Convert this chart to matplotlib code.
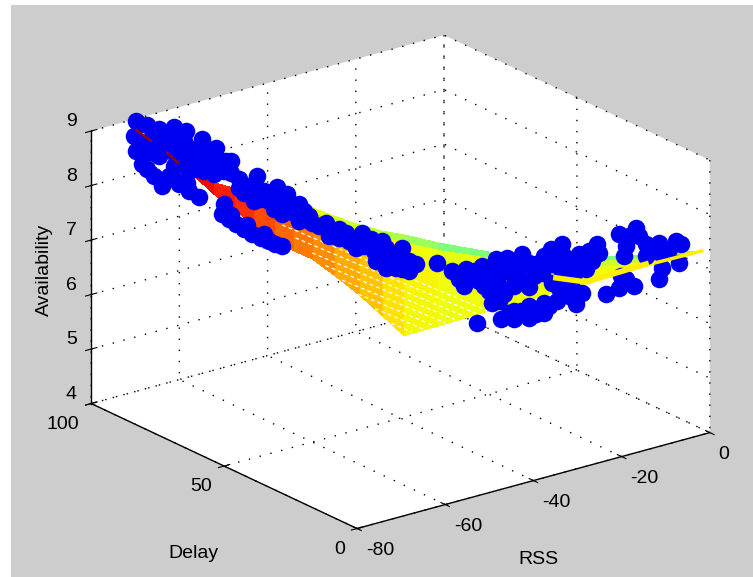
import numpy as np
import matplotlib
matplotlib.use("Agg")
import matplotlib.pyplot as plt
from matplotlib.patches import Rectangle
from mpl_toolkits.mplot3d import Axes3D

rss_ticks = [-80, -60, -40, -20, 0]
delay_ticks = [0, 50, 100]
avail_ticks = [4, 5, 6, 7, 8, 9]

# measured samples (blue dots)
pts_rss = [-77.5, -76.0, -74.4, -72.4, -70.8, -68.6, -66.7, -77.8, -77.5, -76.7, -75.1, -74.0, -71.7, -69.0, -75.8, -73.7,
           -71.7, -69.7, -67.7, -65.6, -72.4, -70.4, -70.6, -63.6, -61.2, -62.5, -64.7, -61.9, -65.4, -63.6,
           -65.9, -64.0, -61.9, -59.6, -57.8, -65.6,
           -59.6, -57.8, -55.5, -52.8, -50.1, -47.8, -45.1, -42.4, -58.5, -57.1, -55.5, -53.7, -51.9, -49.2, -47.0, -44.3, -41.6, -57.3, -60.2,
           -43.8, -42.0, -39.7, -43.8, -41.6, -36.9,
           -34.8, -33.0, -30.8, -28.9, -27.4, -25.4, -23.5, -21.5, -20.0, -21.3, -25.8, -28.5, -31.2, -33.9, -29.8, -28.1, -24.8, -22.7, -20.1,
           -29.4, -27.8, -25.5, -23.5, -28.2, -31.5, -21.7, -20.4, -17.3, -18.1, -17.7, -15.9, -15.3, -16.7, -18.4,
           -14.0, -12.3, -10.3, -12.3, -10.0, -11.3, -11.6, -8.6, -6.9, -4.6, -3.9, -8.6, -6.5, -6.5, -6.9, -12.0,
           -76.4, -75.1, -73.1, -74.4, -71.0, -69.0, -73.1, -67.0, -68.3, -64.7, -67.0, -71.0, -69.3,
           -65.0, -62.9, -60.6, -58.7,
           -61.6, -62.9, -56.9, -58.9, -54.2, -50.8, -48.8, -46.1, -43.4, -40.6, -50.1, -48.1, -45.4,
           -32.5, -29.8, -27.1, -24.4, -27.1, -22.4, -27.1, -28.8, -26.5,
           -19.0, -16.6, -16.3, -19.0, -10.9, -7.6, -5.5,
           -76.7, -75.1, -76.0, -72.0, -70.1, -67.9, -66.0, -74.4, -72.8, -72.4, -70.4, -68.3,
           -60.6, -58.2, -56.2, -54.8, -51.5, -46.7, -45.8, -44.0, -40.6,
           -33.2, -31.9, -27.8, -25.8, -23.8, -30.5, -26.5, -24.4, -22.4, -20.7, -18.8,
           -19.7, -18.0, -15.0, -9.6, -11.3, -4.2, -64.7, -62.5, -60.2,
           -26.5, -24.4, -21.3, -24.4, -22.4, -26.5, -28.5]
pts_delay = [87.2, 85.5, 83.7, 81.4, 79.6, 77.2, 75.1, 87.5, 87.2, 86.3, 84.5, 83.3, 80.7, 77.6, 85.2, 83.0,
             80.7, 78.4, 76.1, 73.8, 81.4, 79.2, 79.5, 71.6, 68.8, 70.3, 72.8, 69.6, 73.5, 71.6,
             74.1, 72.0, 69.6, 67.0, 65.0, 73.8,
             67.0, 65.0, 62.4, 59.4, 56.4, 53.8, 50.7, 47.7, 65.8, 64.3, 62.4, 60.5, 58.3, 55.3, 52.9, 49.8, 46.8, 64.4, 67.8,
             49.2, 47.2, 44.7, 49.2, 46.8, 41.5,
             39.2, 37.1, 34.6, 32.5, 30.8, 28.6, 26.4, 24.2, 22.5, 24.0, 29.0, 32.1, 35.1, 38.1, 33.6, 31.6, 28.0, 25.5, 22.6,
             33.1, 31.3, 28.7, 26.4, 31.8, 35.4, 24.5, 22.9, 19.4, 20.4, 19.9, 17.9, 17.2, 18.8, 20.7,
             15.8, 13.8, 11.5, 13.8, 11.2, 12.8, 13.1, 9.7, 7.7, 5.2, 4.4, 9.7, 7.3, 7.3, 7.7, 13.5,
             86.0, 84.5, 82.2, 83.7, 79.9, 77.6, 82.2, 75.4, 76.9, 72.8, 75.4, 79.9, 77.9,
             73.1, 70.8, 68.2, 66.1,
             69.3, 70.8, 64.0, 66.2, 60.9, 57.1, 54.8, 51.8, 48.8, 45.7, 56.4, 54.1, 51.0,
             36.6, 33.6, 30.5, 27.5, 30.5, 25.2, 30.5, 32.4, 29.8,
             21.4, 18.7, 18.4, 21.4, 12.3, 8.5, 6.2,
             86.3, 84.5, 85.5, 81.0, 78.8, 76.4, 74.3, 83.7, 81.9, 81.4, 79.2, 76.9,
             68.2, 65.5, 63.2, 61.7, 57.9, 52.6, 51.5, 49.5, 45.7,
             37.4, 35.9, 31.3, 29.0, 26.7, 34.3, 29.8, 27.5, 25.2, 23.2, 21.1,
             22.2, 20.2, 16.9, 10.8, 12.8, 4.7, 72.8, 70.3, 67.8,
             29.8, 27.5, 24.0, 27.5, 25.2, 29.8, 32.1]
pts_avail = [9.42, 9.35, 9.29, 9.33, 9.26, 9.13, 8.97, 9.15, 8.87, 8.64, 8.42, 8.24, 8.29, 8.06, 9.06, 8.98,
             8.89, 8.81, 8.63, 8.55, 8.62, 8.53, 8.31, 8.25, 8.48, 8.29, 8.52, 8.24, 8.73, 8.41,
             7.76, 7.59, 7.41, 7.29, 7.21, 7.95,
             8.02, 7.79, 7.67, 7.59, 7.38, 7.21, 6.98, 6.86, 8.28, 8.16, 7.98, 7.64, 7.65, 7.48, 7.49, 7.35, 7.23, 7.90, 8.20,
             7.22, 7.12, 6.95, 6.86, 6.85, 6.97,
             6.84, 6.88, 6.94, 7.08, 7.10, 7.18, 7.01, 7.29, 7.39, 7.01, 6.92, 6.80, 6.67, 6.69, 6.49, 6.55, 6.65, 6.84, 6.93,
             6.27, 6.44, 6.14, 6.09, 5.98, 5.90, 6.24, 6.58, 6.50, 6.29, 7.21, 7.09, 7.40, 6.94, 6.84,
             6.49, 6.61, 6.65, 7.60, 7.72, 7.38, 7.20, 7.43, 7.45, 7.50, 7.45, 7.21, 7.25, 7.00, 6.79, 6.83,
             8.88, 9.25, 9.16, 8.79, 9.08, 8.94, 8.43, 8.82, 8.72, 8.74, 8.49, 8.71, 8.57,
             7.67, 7.50, 7.34, 7.24,
             8.02, 8.16, 7.94, 7.88, 7.77, 7.51, 7.33, 7.25, 7.02, 7.00, 7.55, 7.37, 7.16,
             6.75, 6.82, 6.86, 7.02, 7.01, 7.16, 6.10, 6.68, 6.78,
             7.04, 7.18, 7.27, 6.44, 7.57, 7.30, 7.35,
             9.00, 8.84, 8.55, 9.08, 8.94, 8.91, 8.73, 9.07, 8.89, 8.38, 8.17, 8.54,
             8.06, 8.03, 7.82, 7.86, 7.41, 7.25, 7.38, 7.17, 6.81,
             6.57, 6.85, 6.95, 7.09, 6.79, 6.58, 5.99, 6.00, 6.11, 6.34, 6.66,
             7.17, 7.05, 7.24, 7.57, 6.78, 7.10, 7.75, 7.57, 7.42,
             6.59, 6.58, 6.67, 6.22, 6.30, 6.13, 6.31]

# fitted surface, one column per rss/delay pair
surf_rss = [-69.4, -67.0, -64.3, -61.6, -58.9, -56.2, -53.7, -50.8, -47.4, -44.3, -41.3, -36.6, -29.4, -23.1, -15.0, -8.2, -1.1]
surf_delay = [78.1, 75.4, 72.3, 69.3, 66.2, 63.2, 60.5, 57.1, 53.3, 49.8, 46.5, 41.2, 33.1, 26.0, 16.9, 9.3, 1.2]
surf_avail = [
    [8.41, 8.12, 7.86, 7.56, 7.31, 7.12, 6.98, 6.70, 6.35, 5.98, 5.62, 5.82, 6.14, 6.40, 6.75, 7.03, 7.33],
    [8.41, 8.20, 8.00, 7.80, 7.60, 7.45, 7.30, 7.12, 6.85, 6.58, 6.30, 6.40, 6.50, 6.60, 6.85, 7.08, 7.33],
    [8.41, 8.28, 8.12, 8.00, 7.85, 7.72, 7.60, 7.42, 7.20, 7.03, 6.85, 6.85, 6.80, 6.80, 6.98, 7.13, 7.33],
    [8.41, 8.31, 8.20, 8.12, 8.02, 7.94, 7.85, 7.70, 7.52, 7.43, 7.35, 7.22, 7.10, 7.03, 7.10, 7.19, 7.33],
    [8.41, 8.33, 8.24, 8.16, 8.08, 8.00, 7.92, 7.78, 7.63, 7.53, 7.47, 7.34, 7.19, 7.12, 7.17, 7.23, 7.33],
]
surf_shade = [
    [0.90, 0.88, 0.86, 0.83, 0.80, 0.78, 0.76, 0.73, 0.70, 0.67, 0.645, 0.64, 0.64, 0.64, 0.64, 0.64, 0.64],
    [0.90, 0.88, 0.86, 0.83, 0.80, 0.78, 0.76, 0.73, 0.70, 0.67, 0.65, 0.64, 0.64, 0.64, 0.64, 0.64, 0.64],
    [0.90, 0.88, 0.86, 0.83, 0.80, 0.77, 0.72, 0.70, 0.67, 0.65, 0.64, 0.63, 0.62, 0.60, 0.60, 0.62, 0.62],
    [0.90, 0.87, 0.85, 0.82, 0.80, 0.70, 0.62, 0.60, 0.58, 0.56, 0.54, 0.50, 0.50, 0.50, 0.50, 0.55, 0.55],
    [0.90, 0.87, 0.85, 0.82, 0.80, 0.70, 0.62, 0.60, 0.58, 0.56, 0.54, 0.50, 0.50, 0.50, 0.50, 0.55, 0.55],
]

# white mesh rows seen on the yellow part, start and end of each
mesh_rss = [(-43.0, -40.2), (-45.2, -38.7), (-47.5, -37.3), (-49.7, -35.8), (-52.0, -34.4), (-53.7, -33.0), (-56.0, -31.5), (-57.8, -30.0)]
mesh_delay = [(48.4, 45.2), (50.9, 43.6), (53.4, 41.9), (55.9, 40.3), (58.4, 38.7), (60.5, 37.1), (63.0, 35.4), (65.0, 33.8)]
mesh_avail = [(5.84, 5.69), (6.10, 5.75), (6.36, 5.82), (6.61, 5.88), (6.87, 5.94), (7.09, 6.00), (7.36, 6.06), (7.59, 6.12)]

# dark red bits of the surface showing through the dots
ridge1 = ([-77.5, -75.5], [87.2, 84.9], [9.26, 9.06])
ridge2 = ([-73.3, -71.8], [82.5, 80.8], [8.85, 8.67])
# yellow front edge of the surface showing over the dots
edge1 = ([-20.8, -16.7, -8.6], [23.4, 18.8, 9.7], [6.76, 6.70, 7.06])
edge2 = ([-7.3, -1.1], [8.2, 1.2], [7.09, 7.33])

plt.rcParams['font.family'] = ['Liberation Sans', 'DejaVu Sans']
plt.rcParams['font.size'] = 14
plt.rcParams['axes.unicode_minus'] = False
plt.rcParams['grid.linestyle'] = (0, (1, 7))
plt.rcParams['grid.color'] = 'black'
plt.rcParams['grid.linewidth'] = 1.0

fig = plt.figure(figsize=(7.53, 5.77), dpi=100, facecolor='white')
fig.add_artist(Rectangle((11 / 753, 0), 742 / 753, 572 / 577, transform=fig.transFigure,
                         facecolor='#cdcdcd', edgecolor='none', zorder=-1))

ax = fig.add_axes([0.0954, -0.0579, 0.85, 1.109], projection='3d', computed_zorder=False)
ax.set_facecolor('none')
ax.set_proj_type('ortho')
ax.view_init(elev=20.95, azim=-127.25)
ax.set_box_aspect((1.519, 1.505, 1), zoom=1.045)

ax.set_xlim(-80, 0, view_margin=0)
ax.set_ylim(0, 100, view_margin=0)
ax.set_zlim(4, 9, view_margin=0)
ax.set_xticks(rss_ticks)
ax.set_yticks(delay_ticks)
ax.set_zticks(avail_ticks)

for axis in (ax.xaxis, ax.yaxis, ax.zaxis):
    axis.set_pane_color((1, 1, 1, 1))
    axis.pane.set_edgecolor('none')
    axis.line.set_color('black')
    axis.line.set_linewidth(1.0)
    axis._axinfo['tick']['inward_factor'] = 0.2
    axis._axinfo['tick']['outward_factor'] = 0.2

ax.zaxis.set_ticks_position('upper')

# the labels sit where matlab put them, the 3d axis can't place them like that
fig.text(193 / 753, 1 - 553 / 577, 'Delay', ha='center', va='center')
fig.text(538 / 753, 1 - 560 / 577, 'RSS', ha='center', va='center')
fig.text(44 / 753, 1 - 270 / 577, 'Availability', ha='center', va='center', rotation=90)

ax.tick_params(pad=0)
ax.tick_params(axis='z', pad=-2.4)
for t in ax.get_xticklabels():
    t.set_ha('left')
for t in ax.get_yticklabels():
    t.set_ha('right')
for t in ax.get_zticklabels():
    t.set_ha('right')
    t.set_va('bottom')

rr = np.tile(surf_rss, (len(surf_avail), 1))
dd = np.tile(surf_delay, (len(surf_avail), 1))
ax.plot_surface(rr, dd, np.array(surf_avail), facecolors=plt.get_cmap('jet')(np.array(surf_shade)),
                rstride=1, cstride=1, shade=False, linewidth=0, antialiased=False, zorder=1)

for a, b, c in zip(mesh_rss, mesh_delay, mesh_avail):
    ax.plot(a, b, c, color='white', lw=0.9, ls=(0, (3, 2.5)), zorder=1.5)

ax.scatter(pts_rss, pts_delay, pts_avail, s=160, c='#0000f0', linewidths=0, depthshade=False, alpha=1, zorder=2)

for r in (ridge1, ridge2):
    ax.plot(r[0], r[1], r[2], color='#a00000', lw=1.6, zorder=3)
ax.plot(edge1[0], edge1[1], edge1[2], color='#ffee00', lw=4, zorder=3)
ax.plot(edge2[0], edge2[1], edge2[2], color='#ffee00', lw=2.5, zorder=3)

fig.savefig('out.png', dpi=100)
